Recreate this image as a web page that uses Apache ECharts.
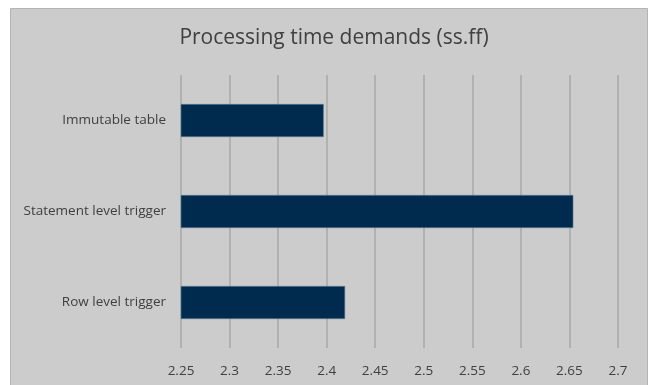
<!DOCTYPE html>
<html>
<head>
<meta charset="utf-8">
<script src="https://cdn.jsdelivr.net/npm/echarts@6/dist/echarts.min.js"></script>
<style>
  html, body { margin: 0; padding: 0; background: #ffffff; }
  #chart { width: 649px; height: 385px; }
</style>
</head>
<body>
<div id="chart"></div>
<script>
// Processing approaches, listed bottom-to-top as on the category axis
const categories = ['Row level trigger', 'Statement level trigger', 'Immutable table'];
// Measured processing time in seconds
const timeValues = [2.419, 2.654, 2.397];
// Value axis range and step
const axisMin = 2.25;
const axisMax = 2.7;
const axisStep = 0.05;

const chart = echarts.init(document.getElementById('chart'), null, { renderer: 'canvas' });

chart.setOption({
  backgroundColor: '#ffffff',
  animation: false,
  graphic: [{
    type: 'rect',
    z: -10,
    silent: true,
    shape: { x: 10.5, y: 8.5, width: 637, height: 400 },
    style: { fill: '#cccccc', stroke: '#b4b4b4', lineWidth: 1 }
  }],
  title: {
    text: 'Processing time demands (ss.ff)',
    left: 329,
    textAlign: 'center',
    top: 23,
    textStyle: {
      fontFamily: 'Open Sans',
      fontWeight: 'normal',
      fontSize: 21,
      color: '#404040'
    }
  },
  grid: { left: 181, right: 31, top: 75, bottom: 37, containLabel: false },
  xAxis: {
    type: 'value',
    min: axisMin,
    max: axisMax,
    interval: axisStep,
    axisLine: { show: false },
    axisTick: { show: false },
    splitLine: { show: true, lineStyle: { color: '#a8a8a8', width: 1.5 } },
    axisLabel: {
      margin: 16,
      color: '#404040',
      fontFamily: 'Open Sans',
      fontSize: 13.5,
      formatter: v => String(Math.round(v * 100) / 100)
    }
  },
  yAxis: {
    type: 'category',
    data: categories,
    axisLine: { show: false },
    axisTick: { show: false },
    axisLabel: {
      margin: 15,
      color: '#404040',
      fontFamily: 'Open Sans',
      fontSize: 13.5
    }
  },
  series: [{
    type: 'bar',
    data: timeValues,
    barWidth: 33,
    itemStyle: { color: '#002b4e', borderColor: '#5f7f9a', borderWidth: 0.6 }
  }]
});
</script>
</body>
</html>
